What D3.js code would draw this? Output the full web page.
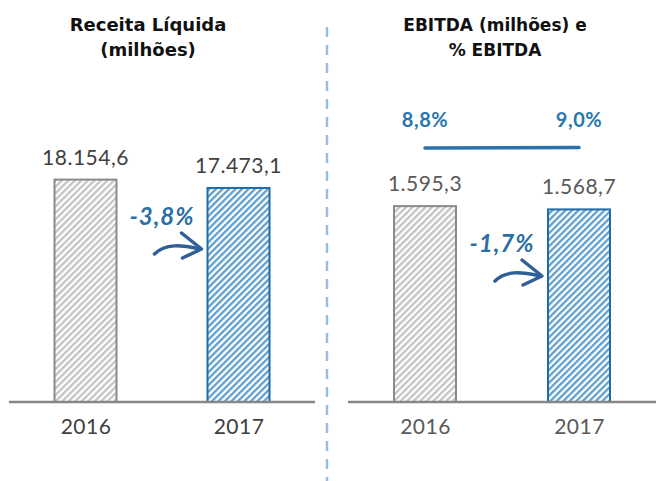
<!DOCTYPE html>
<html>
<head>
<meta charset="utf-8">
<script src="https://cdn.jsdelivr.net/npm/d3@7"></script>
<style>
  body { margin: 0; background: #fff; }
  text { font-family: 'Lato', 'DejaVu Sans', sans-serif; }
</style>
</head>
<body>
<svg id="container" width="656" height="481"></svg>
<script>
const years = ['2016', '2017']
const receita = [18154.6, 17473.1]
const ebitda = [1595.3, 1568.7]
const ebitdaPct = [8.8, 9.0]
const receitaVar = '-3,8%'
const ebitdaVar = '-1,7%'

const fmt = (v) => d3.format(',.1f')(v).replace(/,/g, '#').replace('.', ',').replace(/#/g, '.')
const fmtPct = (v) => d3.format('.1f')(v).replace('.', ',') + '%'

const svg = d3.select('#container')
const defs = svg.append('defs')

const stripes = (id, color) => {
  const p = defs.append('pattern')
    .attr('id', id)
    .attr('patternUnits', 'userSpaceOnUse')
    .attr('width', 4.6)
    .attr('height', 10)
    .attr('patternTransform', 'rotate(45)')
  p.append('rect').attr('width', 4.6).attr('height', 10).attr('fill', '#fff')
  p.append('rect').attr('width', 2.3).attr('height', 10).attr('fill', color)
}
stripes('grayHatch', '#c4c4c4')
stripes('blueHatch', '#5f9fd0')

const fills = ['url(#grayHatch)', 'url(#blueHatch)']
const strokes = ['#8a8a8a', '#1f6da6']

const baseY = 402

const panel = (opts) => {
  const x = d3.scalePoint().domain(years).range(opts.range).padding(0.5)
  const y = d3.scaleLinear().domain(opts.domain).range([baseY, opts.top])
  const g = svg.append('g')
  const bw = 62

  g.selectAll('rect.bar')
    .data(opts.values)
    .enter()
    .append('rect')
    .attr('class', 'bar')
    .attr('x', (d, i) => x(years[i]) - bw / 2)
    .attr('y', (d) => y(d))
    .attr('width', bw)
    .attr('height', (d) => baseY - y(d))
    .style('fill', (d, i) => fills[i])
    .style('stroke', (d, i) => strokes[i])
    .style('stroke-width', 2)

  g.selectAll('text.val')
    .data(opts.values)
    .enter()
    .append('text')
    .attr('class', 'val')
    .attr('x', (d, i) => x(years[i]))
    .attr('y', (d) => y(d) - 15)
    .attr('text-anchor', 'middle')
    .style('font-size', '21px')
    .style('letter-spacing', '0.5px')
    .style('fill', opts.textColor)
    .text(fmt)

  const xAxis = d3.axisBottom(x).tickSize(0).tickPadding(17)
  const ax = g.append('g')
    .attr('transform', `translate(0,${baseY})`)
    .call(xAxis)
  ax.select('.domain').attr('d', `M${opts.range[0]},0H${opts.range[1]}`)
    .style('stroke', '#878787').style('stroke-width', 2.5)
  ax.selectAll('text')
    .style('font-size', '21px')
    .style('letter-spacing', '0.5px')
    .style('font-family', "'Lato', 'DejaVu Sans', sans-serif")
    .style('fill', opts.textColor)

  opts.title.forEach((t, i) => {
    g.append('text')
      .attr('x', opts.titleX)
      .attr('y', 31 + i * 25)
      .attr('text-anchor', 'middle')
      .style('font-family', "'DejaVu Sans', sans-serif")
      .style('font-size', opts.titleSize)
      .style('font-weight', 'bold')
      .style('fill', '#111')
      .text(t)
  })

  // variation arrow
  const x0 = x(years[0]) + bw / 2
  const x1 = x(years[1]) - bw / 2
  const mid = (x0 + x1) / 2
  const tipX = x1 - 6
  const tipY = opts.arrowY
  g.append('text')
    .attr('x', mid)
    .attr('y', tipY - 24)
    .attr('text-anchor', 'middle')
    .style('font-size', '24px')
    .style('letter-spacing', '1px')
    .style('font-weight', 'bold')
    .style('font-style', 'italic')
    .style('fill', '#2b6fa6')
    .text(opts.variation)
  g.append('path')
    .attr('d', `M${tipX - 47},${tipY + 5} C${tipX - 36},${tipY - 6} ${tipX - 20},${tipY - 4} ${tipX - 2},${tipY}`)
    .style('fill', 'none')
    .style('stroke', '#2f5f98')
    .style('stroke-width', 3.5)
    .style('stroke-linecap', 'round')
  g.append('path')
    .attr('d', `M${tipX - 20},${tipY - 16} L${tipX},${tipY} L${tipX - 19},${tipY + 9}`)
    .style('fill', 'none')
    .style('stroke', '#2f5f98')
    .style('stroke-width', 3.5)
    .style('stroke-linecap', 'round')
    .style('stroke-linejoin', 'round')

  return x
}

panel({
  range: [9, 315],
  domain: [0, 20000],
  top: 157,
  values: receita,
  textColor: '#404040',
  title: ['Receita Líquida', '(milhões)'],
  titleX: 148,
  titleSize: '18px',
  variation: receitaVar,
  arrowY: 249
})

const xr = panel({
  range: [348, 656],
  domain: [0, 1800],
  top: 181,
  values: ebitda,
  textColor: '#595959',
  title: ['EBITDA (milhões) e', '% EBITDA'],
  titleX: 495,
  titleSize: '17px',
  variation: ebitdaVar,
  arrowY: 276
})

// EBITDA % line
const y2 = d3.scaleLinear().domain([0, 10]).range([170, 145])
const line = d3.line()
  .x((d, i) => xr(years[i]))
  .y((d) => y2(d))
svg.append('path')
  .datum(ebitdaPct)
  .attr('d', line)
  .style('fill', 'none')
  .style('stroke', '#2a72ab')
  .style('stroke-width', 3.5)
  .style('stroke-linecap', 'round')
svg.selectAll('text.pct')
  .data(ebitdaPct)
  .enter()
  .append('text')
  .attr('class', 'pct')
  .attr('x', (d, i) => xr(years[i]))
  .attr('y', 127)
  .attr('text-anchor', 'middle')
  .style('font-size', '20px')
  .style('letter-spacing', '0.5px')
  .style('font-weight', 'bold')
  .style('fill', '#2a76ad')
  .text(fmtPct)

// divider
svg.append('line')
  .attr('x1', 327).attr('x2', 327)
  .attr('y1', 27).attr('y2', 481)
  .style('stroke', '#9dbce2')
  .style('stroke-width', 2.5)
  .style('stroke-dasharray', '10,8')
</script>
</body>
</html>
